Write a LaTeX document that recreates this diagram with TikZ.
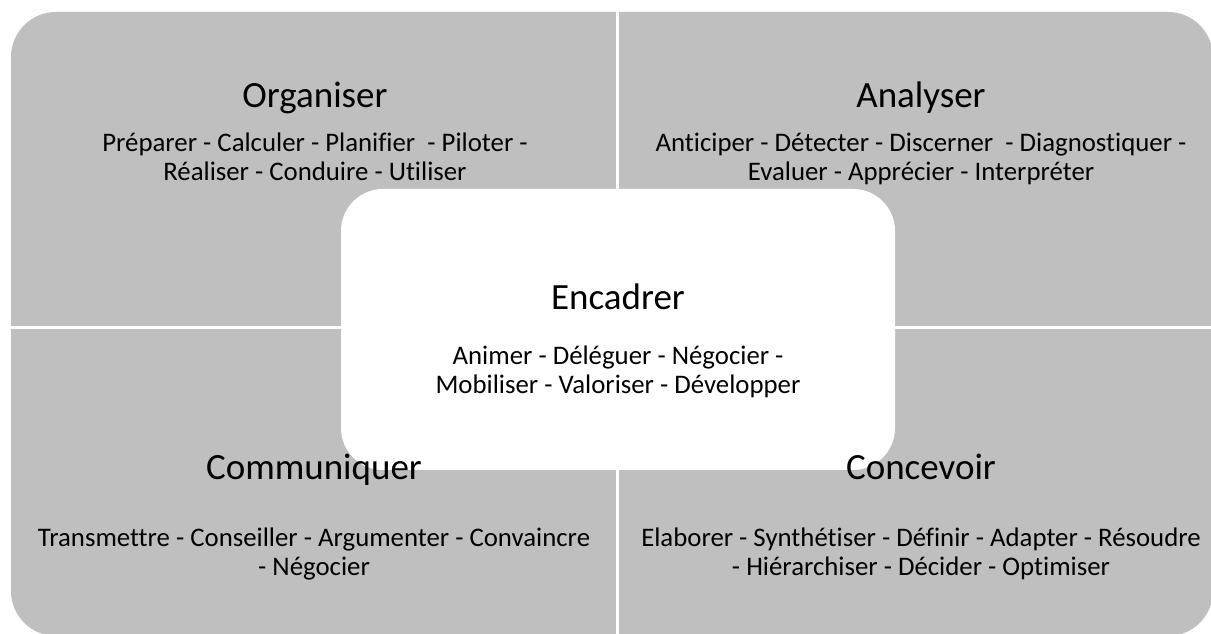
\documentclass[tikz,border=0pt]{standalone}
\usepackage{fontspec}
\setmainfont{Carlito}[Ligatures={NoCommon}]
\usetikzlibrary{scopes}
\usetikzlibrary{positioning}
\definecolor{quadgray}{RGB}{191,191,191}
\tikzset{
    titre/.style={font=\fontsize{37}{40}\selectfont, inner sep=0pt, anchor=base},
    verbes/.style={font=\fontsize{26.8}{29}\selectfont, align=center, inner sep=0pt, anchor=base},
}

\begin{document}
\begin{tikzpicture}[x=1pt,y=1pt]
        \useasboundingbox (0,0) rectangle (1211,634);
        \begin{scope}

            \fill[quadgray, rounded corners=45] (11,-2) rectangle (1213,622);
            {[white, line width=3]
                \draw (617.5,-2) -- (617.5,622);
                \draw (11,306.5) -- (1213,306.5);
            }

            \node[fill=white, rounded corners=42, minimum width=554, minimum height=281] (centre) at (618,304.5) {};

            \node[titre] (organiser) at (315,526) {Organiser};
            \node[verbes] (organiserv) at (315,453) {Préparer - Calculer - Planifier~ - Piloter -\\Réaliser - Conduire - Utiliser};

            \node[titre] (analyser) at (921,526) {Analyser};
            \node[verbes] (analyserv) at (921,453) {Anticiper - Détecter - Discerner~ - Diagnostiquer -\\Evaluer - Apprécier - Interpréter};

            \node[titre] (communiquer) at (314,154) {Communiquer};
            \node[verbes] (communiquerv) at (314,58) {Transmettre - Conseiller - Argumenter - Convaincre\\- Négocier};

            \node[titre] (concevoir) at (921,154) {Concevoir};
            \node[verbes] (concevoirv) at (921,58) {Elaborer - Synthétiser - Définir - Adapter - Résoudre\\- Hiérarchiser - Décider - Optimiser};

            \node[titre] (encadrer) at (618,324) {Encadrer};
            \node[verbes] (encadrerv) at (618,240) {Animer - Déléguer - Négocier -\\Mobiliser - Valoriser - Développer};

        \end{scope}
    \end{tikzpicture}
\end{document}
